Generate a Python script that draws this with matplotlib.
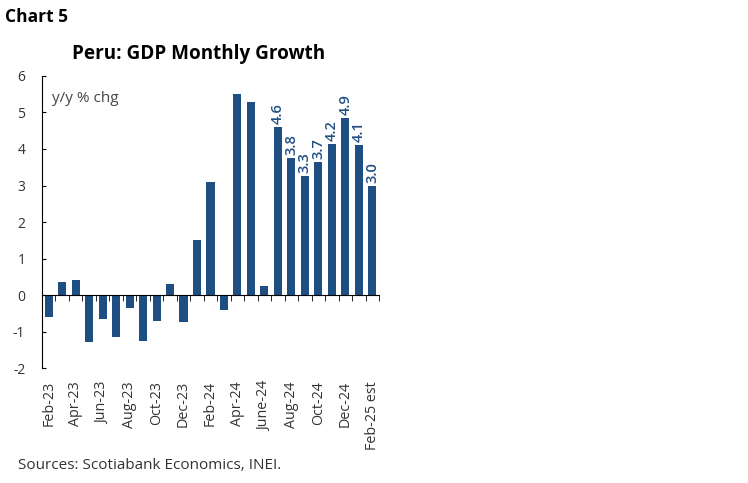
import matplotlib.pyplot as plt
import numpy as np

months = ["Feb-23", "Mar-23", "Apr-23", "May-23", "Jun-23", "Jul-23", "Aug-23",
          "Sep-23", "Oct-23", "Nov-23", "Dec-23", "Jan-24", "Feb-24", "Mar-24",
          "Apr-24", "May-24", "June-24", "Jul-24", "Aug-24", "Sep-24", "Oct-24",
          "Nov-24", "Dec-24", "Jan-25", "Feb-25 est"]
growth = [-0.6, 0.35, 0.4, -1.3, -0.65, -1.15, -0.35, -1.25, -0.7, 0.3, -0.75,
          1.5, 3.1, -0.4, 5.5, 5.3, 0.25, 4.6, 3.75, 3.25, 3.65, 4.15, 4.85,
          4.1, 3.0]
labels = [None] * 17 + ["4.6", "3.8", "3.3", "3.7", "4.2", "4.9", "4.1", "3.0"]

bar_color = "#1f4e82"
plt.rcParams["font.family"] = ["Open Sans", "DejaVu Sans"]
plt.rcParams["axes.unicode_minus"] = False

fig = plt.figure(figsize=(7.48, 4.83), dpi=100)
ax = fig.add_axes([0.0561, 0.238, 0.4506, 0.6047])

x = np.arange(len(months))
ax.bar(x, growth, width=0.6, color=bar_color, zorder=2)

for xi, v, lab in zip(x, growth, labels):
    if lab:
        ax.text(xi, v + 0.08, lab, rotation=90, ha="center", va="bottom",
                color=bar_color, fontsize=10.5, fontweight="semibold")

ax.set_xlim(-0.5, len(months) - 0.5)
ax.set_ylim(-2, 6)
ax.set_yticks(range(-2, 7))
ax.tick_params(axis="y", direction="in", length=3, labelsize=10,
               colors="#333333", pad=12)
ax.tick_params(axis="y", color="black")

# x ticks: marks between bars, labels on every other bar
ax.set_xticks(np.arange(-0.5, len(months), 1), minor=True)
ax.set_xticks(x[::2])
ax.set_xticklabels([months[i] for i in x[::2]])
ax.tick_params(axis="x", which="major", length=0, pad=62, labelsize=10.3,
               labelcolor="#333333", labelrotation=90)
ax.tick_params(axis="x", which="minor", direction="out", length=4,
               color="black")

for s in ["top", "right"]:
    ax.spines[s].set_visible(False)
ax.spines["bottom"].set_position(("data", 0))
ax.spines["left"].set_color("black")
ax.spines["bottom"].set_color("black")

ax.text(0.03, 0.95, "y/y % chg", transform=ax.transAxes, fontsize=11,
        color="#444444", va="top")

fig.text(0.007, 0.965, "Chart 5", fontsize=12.5, fontweight="bold", va="center")
fig.text(0.266, 0.888, "Peru: GDP Monthly Growth", fontsize=13.6,
         fontweight="bold", ha="center", va="center")
fig.text(0.024, 0.037, "Sources: Scotiabank Economics, INEI.", fontsize=11,
         color="#333333", va="center")

fig.savefig("out.png", dpi=100)
